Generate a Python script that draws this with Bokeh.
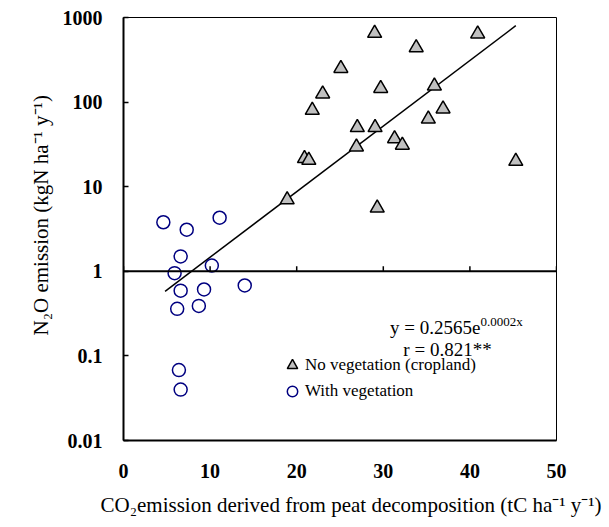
import math
from bokeh.plotting import figure
from bokeh.models import (Range1d, FixedTicker, Label, Legend, LegendItem, Span,
                          CustomJSTickFormatter, Title)
from bokeh.embed import file_html
from bokeh.resources import INLINE

# ---------------- data ----------------
crop_x = [29.0, 40.9, 33.8, 25.1, 23.0, 29.7, 35.9, 21.8, 36.9, 35.2,
          27.0, 29.05, 31.3, 32.2, 26.9, 20.9, 21.4, 45.3, 29.3, 18.9]
crop_y = [650, 640, 440, 250, 125, 145, 155, 80, 83, 63,
          50, 50, 37, 31, 29.5, 21.5, 20.5, 20, 5.6, 7.0]

veg_x = [4.6, 7.3, 11.1, 6.6, 5.9, 10.2, 6.6, 9.3, 14.0, 6.2, 8.7, 6.4, 6.6]
veg_y = [3.8, 3.1, 4.3, 1.5, 0.95, 1.17, 0.59, 0.61, 0.68, 0.36, 0.39, 0.068, 0.040]

trend_x = [4.8, 45.3]
trend_y = [0.58, 800]

x_ticks = [0, 10, 20, 30, 40, 50]
x_tick_labels = ["0", "10", "20", "30", "40", "50"]
y_ticks = [0.01, 0.1, 1, 10, 100, 1000]
y_tick_labels = ["0.01", "0.1", "1", "10", "100", "1000"]

x_title = "CO\u2082emission derived from peat decomposition (tC ha\u207b\u00b9 y\u207b\u00b9)"
y_title = "N\u2082O emission (kgN ha\u207b\u00b9 y\u207b\u00b9)"
eq_main = "y = 0.2565e"
eq_sup = "0.0002x"
r_text = "r = 0.821**"
legend_labels = ["No vegetation (cropland)", "With vegetation"]

# ---------------- layout ----------------
FONT = "Liberation Serif"
W, H = 609, 527
FL, FT, FR, FB = 123, 17, 556, 440   # frame edges in pixels
X0, X1 = 0, 50
Y0, Y1 = 0.01, 1000


def xd(px):
    """pixel x -> data x (for annotation placement)"""
    return X0 + (px - FL) / (FR - FL) * (X1 - X0)


def yd(py):
    """pixel y -> data y (log axis)"""
    lo, hi = math.log10(Y0), math.log10(Y1)
    return 10 ** (hi - (py - FT) / (FB - FT) * (hi - lo))


p = figure(width=W, height=H, x_range=Range1d(X0, X1), y_range=Range1d(Y0, Y1),
           y_axis_type="log", output_backend="svg", toolbar_location=None,
           min_border_left=FL, min_border_top=FT,
           min_border_right=W - FR, min_border_bottom=H - FB)

p.background_fill_color = "white"
p.border_fill_color = "white"
p.outline_line_color = "black"
p.outline_line_width = 1
p.xgrid.visible = False
p.ygrid.visible = False

# x axis
p.xaxis.ticker = FixedTicker(ticks=x_ticks)
p.xaxis.formatter = CustomJSTickFormatter(
    args=dict(tv=x_ticks, tl=x_tick_labels),
    code="const i = tv.findIndex(t => Math.abs(t - tick) < 1e-9); return i >= 0 ? tl[i] : '';")
p.xaxis.major_tick_in = 0
p.xaxis.major_tick_out = 0
p.xaxis.minor_tick_line_color = None
p.xaxis.axis_line_width = 2
p.xaxis.axis_line_color = "black"
p.xaxis.major_label_standoff = 23
p.xaxis.major_label_text_font = FONT
p.xaxis.major_label_text_font_size = "20px"
p.xaxis.major_label_text_font_style = "bold"
p.xaxis.major_label_text_color = "black"

# y axis
p.yaxis.ticker = FixedTicker(ticks=y_ticks)
p.yaxis.formatter = CustomJSTickFormatter(
    args=dict(tv=y_ticks, tl=y_tick_labels),
    code="const i = tv.findIndex(t => Math.abs(Math.log10(t) - Math.log10(tick)) < 1e-6); return i >= 0 ? tl[i] : '';")
p.yaxis.major_tick_in = 5
p.yaxis.major_tick_out = 0
p.yaxis.major_tick_line_width = 1.5
p.yaxis.minor_tick_line_color = None
p.yaxis.axis_line_width = 2
p.yaxis.axis_line_color = "black"
p.yaxis.major_label_standoff = 21
p.yaxis.major_label_text_font = FONT
p.yaxis.major_label_text_font_size = "20px"
p.yaxis.major_label_text_font_style = "bold"
p.yaxis.major_label_text_color = "black"

# axis titles (as side-panel titles for exact placement)
p.add_layout(Title(text=x_title, align="left", offset=-23, standoff=20,
                   text_font=FONT, text_font_size="21px", text_font_style="normal",
                   text_color="black"), "below")
p.add_layout(Title(text=y_title, align="left", offset=105, standoff=14,
                   text_font=FONT, text_font_size="21px", text_font_style="normal",
                   text_color="black"), "left")

# horizontal axis crossing at y = 1 with upward ticks
p.add_layout(Span(location=1, dimension="width", line_color="black", line_width=2))
p.ray(x=x_ticks, y=[1] * len(x_ticks), length=5, length_units="screen",
      angle=math.pi / 2, line_color="black", line_width=1.5)

# trend line
p.line(trend_x, trend_y, line_color="black", line_width=1.5)

# data
tri = p.scatter(crop_x, crop_y, marker="triangle", size=14, fill_color="#c0c0c0",
                line_color="black", line_width=1.5)
circ = p.scatter(veg_x, veg_y, marker="circle", size=13, fill_color=None,
                 line_color="#000080", line_width=1.5)

# equation
p.add_layout(Label(x=xd(480), y=yd(327), text=eq_main, text_align="right",
                   text_baseline="middle", text_font=FONT, text_font_size="19px",
                   text_color="black"))
p.add_layout(Label(x=xd(480), y=yd(327), y_offset=6, text=eq_sup, text_align="left",
                   text_baseline="middle", text_font=FONT, text_font_size="13px",
                   text_color="black"))
p.add_layout(Label(x=xd(447), y=yd(349), text=r_text, text_align="center",
                   text_baseline="middle", text_font=FONT, text_font_size="19px",
                   text_color="black"))

# legend
legend = Legend(items=[LegendItem(label=legend_labels[0], renderers=[tri]),
                       LegendItem(label=legend_labels[1], renderers=[circ])],
                location=(279 - FL, FB - 404),
                glyph_width=26, glyph_height=26, spacing=-8, padding=0, margin=0,
                label_standoff=0, border_line_color=None, background_fill_alpha=0,
                label_text_font=FONT, label_text_font_size="17px",
                label_text_color="black")
p.add_layout(legend)

open("out.html", "w").write(file_html(p, INLINE))
